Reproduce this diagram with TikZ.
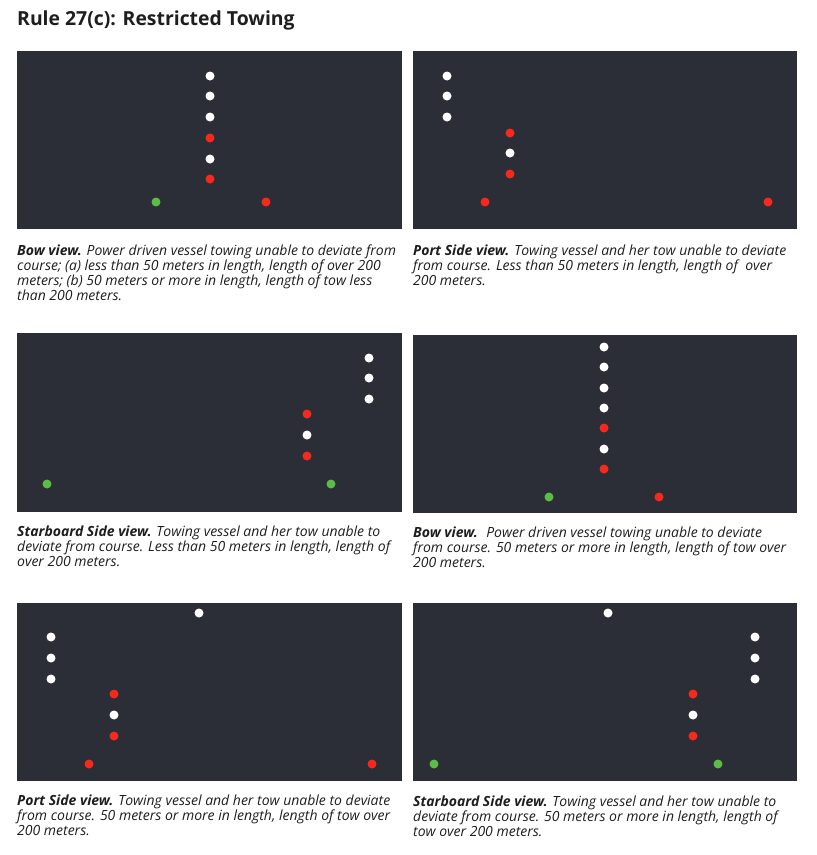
\documentclass[tikz,border=0pt]{standalone}
\usepackage{fontspec}
\setmainfont{Open Sans}
\usepackage{tikz}
\usetikzlibrary{positioning}
\definecolor{hullbg}{HTML}{2B2E36}
\definecolor{lred}{HTML}{F52A1C}
\definecolor{lgreen}{HTML}{5CBD46}
\definecolor{ink}{HTML}{1E1E1E}
\tikzset{
  panel/.style={fill=hullbg},
  lamp/.style={circle, inner sep=0pt, minimum size=9pt},
  wlamp/.style={lamp, fill=white},
  rlamp/.style={lamp, fill=lred},
  glamp/.style={lamp, fill=lgreen},
  caption/.style={anchor=north west, align=left, inner sep=0pt, text=ink,
                  font=\fontsize{14}{15}\selectfont\itshape},
}

\begin{document}
\begin{tikzpicture}[x=1pt, y=-1pt,
    title/.style={anchor=base west, inner sep=0pt, text=ink,
                  font=\fontsize{19.4}{21}\selectfont\bfseries}
  ]
  \useasboundingbox (0,0) rectangle (817,855);

  \node[title] (title) at (17,25) {Rule 27(c): Restricted Towing};

  % panels
  \fill[panel] (17,51) rectangle (402,229);
  \fill[panel] (413,51) rectangle (797,229);
  \fill[panel] (17,333) rectangle (402,512);
  \fill[panel] (413,335) rectangle (797,513);
  \fill[panel] (17,603) rectangle (402,781);
  \fill[panel] (413,603) rectangle (797,781);

  % bow view, short vessel
  \foreach \y/\c [count=\i] in {76/wlamp,96/wlamp,117/wlamp,138/rlamp,159/wlamp,179/rlamp}
    \node[\c] (a\i) at (210,\y) {};
  \node[glamp] (astbd) at (156,202) {};
  \node[rlamp] (aport) at (266,202) {};

  % port side, short vessel
  \foreach \y/\c [count=\i] in {76/wlamp,96/wlamp,117/wlamp}
    \node[\c] (b\i) at (447,\y) {};
  \foreach \y/\c [count=\i] in {133/rlamp,153/wlamp,174/rlamp}
    \node[\c] (bb\i) at (510,\y) {};
  \node[rlamp] (bside) at (485,202) {};
  \node[rlamp] (btow) at (768,202) {};

  % starboard side, short vessel
  \foreach \y/\c [count=\i] in {358/wlamp,378/wlamp,399/wlamp}
    \node[\c] (c\i) at (369,\y) {};
  \foreach \y/\c [count=\i] in {414/rlamp,435/wlamp,456/rlamp}
    \node[\c] (cc\i) at (307,\y) {};
  \node[glamp] (ctow) at (47,484) {};
  \node[glamp] (cside) at (331,484) {};

  % bow view, long vessel
  \foreach \y/\c [count=\i] in {347/wlamp,367/wlamp,388/wlamp,408/wlamp,428/rlamp,449/wlamp,469/rlamp}
    \node[\c] (d\i) at (604,\y) {};
  \node[glamp] (dstbd) at (549,497) {};
  \node[rlamp] (dport) at (659,497) {};

  % port side, long vessel
  \node[wlamp] (emast) at (199,613) {};
  \foreach \y/\c [count=\i] in {637/wlamp,658/wlamp,679/wlamp}
    \node[\c] (e\i) at (51,\y) {};
  \foreach \y/\c [count=\i] in {694/rlamp,715/wlamp,736/rlamp}
    \node[\c] (ee\i) at (114,\y) {};
  \node[rlamp] (eside) at (89,764) {};
  \node[rlamp] (etow) at (372,764) {};

  % starboard side, long vessel
  \node[wlamp] (fmast) at (608,613) {};
  \foreach \y/\c [count=\i] in {637/wlamp,658/wlamp,679/wlamp}
    \node[\c] (f\i) at (755,\y) {};
  \foreach \y/\c [count=\i] in {694/rlamp,715/wlamp,736/rlamp}
    \node[\c] (ff\i) at (693,\y) {};
  \node[glamp] (ftow) at (434,764) {};
  \node[glamp] (fside) at (718,764) {};

  % captions
  \node[caption] (capa) at (17,245) {{\bfseries Bow view.} Power driven vessel towing unable to deviate from\\course; (a) less than 50 meters in length, length of over 200\\meters; (b) 50 meters or more in length, length of tow less\\than 200 meters.};
  \node[caption] (capb) at (413,245) {{\bfseries Port Side view.} Towing vessel and her tow unable to deviate\\from course. Less than 50 meters in length, length of~ over\\200 meters.};
  \node[caption] (capc) at (17,526) {{\bfseries Starboard Side view.} Towing vessel and her tow unable to\\deviate from course. Less than 50 meters in length, length of\\over 200 meters.};
  \node[caption] (capd) at (413,527) {{\bfseries Bow view.}~ Power driven vessel towing unable to deviate\\from course. 50 meters or more in length, length of tow over\\200 meters.};
  \node[caption] (cape) at (17,795) {{\bfseries Port Side view.} Towing vessel and her tow unable to deviate\\from course. 50 meters or more in length, length of tow over\\200 meters.};
  \node[caption] (capf) at (413,796) {{\bfseries Starboard Side view.} Towing vessel and her tow unable to\\deviate from course. 50 meters or more in length, length of\\tow over 200 meters.};
\end{tikzpicture}
\end{document}
